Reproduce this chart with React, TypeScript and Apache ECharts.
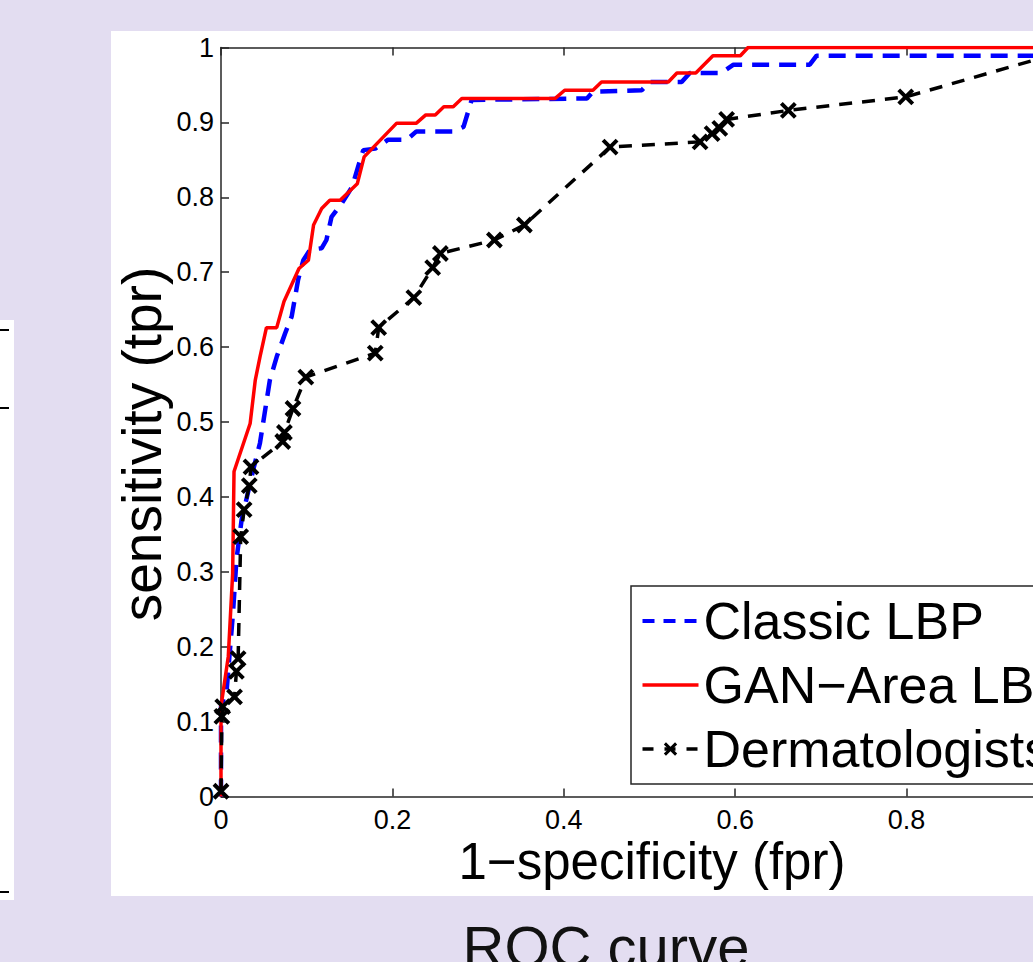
import React, { useEffect, useRef } from "react";
import * as echarts from "echarts";

// ---- data ----
const seriesNames = ["Classic LBP", "GAN\u2212Area LBP", "Dermatologists"];
const xAxisTitle = "1\u2212specificity (fpr)";
const yAxisTitle = "sensitivity (tpr)";
const caption = "ROC curve";

const classicFpr = [0, 0, 0.0066, 0.014, 0.018, 0.024, 0.038, 0.0455, 0.057, 0.065, 0.0747, 0.0825, 0.09, 0.096, 0.104, 0.1175, 0.123, 0.129, 0.141, 0.153, 0.16, 0.166, 0.18, 0.195, 0.217, 0.228, 0.271, 0.283, 0.2925, 0.427, 0.434, 0.491, 0.5, 0.5375, 0.547, 0.584, 0.598, 0.687, 0.695, 0.96, 1];
const classicTpr = [0, 0.12, 0.142, 0.245, 0.316, 0.369, 0.438, 0.472, 0.556, 0.587, 0.618, 0.641, 0.69, 0.716, 0.73, 0.732, 0.743, 0.774, 0.792, 0.814, 0.841, 0.863, 0.865, 0.877, 0.877, 0.888, 0.888, 0.894, 0.93, 0.932, 0.941, 0.943, 0.954, 0.954, 0.966, 0.966, 0.977, 0.977, 0.989, 0.989, 1];

const ganFpr = [0, 0, 0.0085, 0.0136, 0.0152, 0.034, 0.04, 0.0455, 0.053, 0.065, 0.0735, 0.091, 0.102, 0.108, 0.1175, 0.127, 0.139, 0.159, 0.167, 0.205, 0.228, 0.239, 0.25, 0.26, 0.271, 0.281, 0.39, 0.401, 0.434, 0.444, 0.522, 0.532, 0.554, 0.574, 0.606, 0.615, 1];
const ganTpr = [0, 0.12, 0.187, 0.298, 0.434, 0.498, 0.556, 0.587, 0.626, 0.626, 0.661, 0.705, 0.716, 0.763, 0.785, 0.796, 0.796, 0.818, 0.854, 0.899, 0.899, 0.91, 0.91, 0.921, 0.921, 0.932, 0.932, 0.943, 0.943, 0.954, 0.954, 0.966, 0.966, 0.989, 0.989, 1, 1];

const dermFpr = [0, 0.001, 0.002, 0.0158, 0.018, 0.02, 0.023, 0.027, 0.033, 0.035, 0.072, 0.074, 0.084, 0.099, 0.18, 0.184, 0.225, 0.247, 0.256, 0.319, 0.354, 0.454, 0.559, 0.573, 0.582, 0.59, 0.662, 0.799, 1];
const dermTpr = [0.007, 0.107, 0.12, 0.133, 0.167, 0.184, 0.347, 0.383, 0.415, 0.44, 0.474, 0.486, 0.518, 0.56, 0.592, 0.626, 0.666, 0.706, 0.725, 0.743, 0.763, 0.867, 0.874, 0.885, 0.892, 0.904, 0.916, 0.934, 1];

const FONT = "'Liberation Sans', Arial, Helvetica, sans-serif";
const AXIS_COLOR = "#262626";
const CROSS = "path://M0,0L10,10M10,0L0,10";

const zip = (xs: number[], ys: number[]) => xs.map((x, i) => [x, ys[i]]);

export default function App() {
  const ref = useRef<HTMLDivElement>(null);

  useEffect(() => {
    if (!ref.current) return;
    const chart = echarts.init(ref.current, undefined, { renderer: "svg" });

    const axisLine = { show: true, onZero: false, lineStyle: { color: AXIS_COLOR, width: 1.5 } };
    const axisTick = { show: true, inside: true, length: 8, lineStyle: { color: AXIS_COLOR, width: 1.5 } };

    const option: any = {
      animation: false,
      backgroundColor: "#E3DDF1",
      textStyle: { fontFamily: FONT },
      grid: {
        left: 221, top: 47.5, width: 857, height: 749,
        containLabel: false, outerBoundsMode: "none",
      },
      xAxis: [
        {
          type: "value", min: 0, max: 1, interval: 0.2, position: "bottom",
          axisLine, axisTick,
          axisLabel: { fontSize: 27, lineHeight: 24, color: "#000", margin: 11, fontFamily: FONT, showMaxLabel: false },
          splitLine: { show: false },
        },
        {
          type: "value", min: 0, max: 1, interval: 0.2, position: "top",
          axisLine, axisTick,
          axisLabel: { show: false },
          splitLine: { show: false },
        },
      ],
      yAxis: [
        {
          type: "value", min: 0, max: 1, interval: 0.1, position: "left",
          axisLine, axisTick,
          axisLabel: { fontSize: 27, color: "#000", margin: 7, fontFamily: FONT },
          splitLine: { show: false },
        },
      ],
      legend: {
        orient: "vertical",
        left: 631,
        top: 586,
        padding: [9, 10, 9, 9.5],
        itemWidth: 56,
        itemHeight: 14,
        itemGap: 12,
        selectedMode: false,
        backgroundColor: "#fff",
        borderColor: AXIS_COLOR,
        borderWidth: 1.5,
        borderRadius: 0,
        textStyle: { fontSize: 52, color: "#000", fontFamily: FONT },
        data: [
          {
            name: seriesNames[0],
            lineStyle: { color: "#0000FF", width: 4, type: [12, 9] },
            itemStyle: { color: "rgba(0,0,0,0)", borderWidth: 0 },
          },
          {
            name: seriesNames[1],
            lineStyle: { color: "#FF0000", width: 3.5, type: "solid" },
            itemStyle: { color: "rgba(0,0,0,0)", borderWidth: 0 },
          },
          {
            name: seriesNames[2],
            lineStyle: { color: "#000", width: 3.5, type: [11, 11] },
            itemStyle: { color: "rgba(0,0,0,0)", borderColor: "#000", borderWidth: 3 },
          },
        ],
      },
      series: [
        {
          name: seriesNames[0], type: "line", data: zip(classicFpr, classicTpr),
          symbol: "none", showSymbol: false, z: 3,
          lineStyle: { color: "#0000FF", width: 4.5, type: [17, 10] },
          itemStyle: { color: "#0000FF" },
        },
        {
          name: seriesNames[1], type: "line", data: zip(ganFpr, ganTpr),
          symbol: "none", showSymbol: false, z: 4,
          lineStyle: { color: "#FF0000", width: 3.5 },
          itemStyle: { color: "#FF0000" },
        },
        {
          name: seriesNames[2], type: "line", data: zip(dermFpr, dermTpr),
          symbol: CROSS, symbolSize: 14, showSymbol: true, z: 5,
          lineStyle: { color: "#000", width: 3.5, type: [13, 10] },
          itemStyle: { color: "rgba(0,0,0,0)", borderColor: "#000", borderWidth: 4 },
        },
      ],
      graphic: [
        { type: "rect", z: -10, shape: { x: 111, y: 31, width: 1000, height: 865 }, style: { fill: "#fff" } },
        { type: "rect", z: -10, shape: { x: 0, y: 320, width: 14, height: 580 }, style: { fill: "#fff" } },
        { type: "line", z: -9, shape: { x1: 0, y1: 330, x2: 9, y2: 330 }, style: { stroke: "#000", lineWidth: 2 } },
        { type: "line", z: -9, shape: { x1: 0, y1: 408, x2: 9, y2: 408 }, style: { stroke: "#000", lineWidth: 2 } },
        { type: "line", z: -9, shape: { x1: 0, y1: 892, x2: 9, y2: 892 }, style: { stroke: "#000", lineWidth: 2 } },
        {
          type: "text", x: 142, y: 444, rotation: Math.PI / 2,
          style: { text: yAxisTitle, fontSize: 55, fontFamily: FONT, fill: "#000", textAlign: "center", textVerticalAlign: "middle" },
        },
        {
          type: "text", x: 652, y: 861,
          style: { text: xAxisTitle, fontSize: 51, lineHeight: 44, fontFamily: FONT, fill: "#000", textAlign: "center", textVerticalAlign: "middle" },
        },
        {
          type: "text", x: 606, y: 946,
          style: { text: caption, fontSize: 58, fontFamily: FONT, fill: "#111", textAlign: "center", textVerticalAlign: "middle" },
        },
      ],
    };

    chart.setOption(option);
    return () => chart.dispose();
  }, []);

  return (
    <div style={{ position: "fixed", left: 0, top: 0, width: 1033, height: 962, overflow: "hidden" }}>
      <div ref={ref} style={{ position: "absolute", left: 0, top: 0, width: 1110, height: 962 }} />
    </div>
  );
}
